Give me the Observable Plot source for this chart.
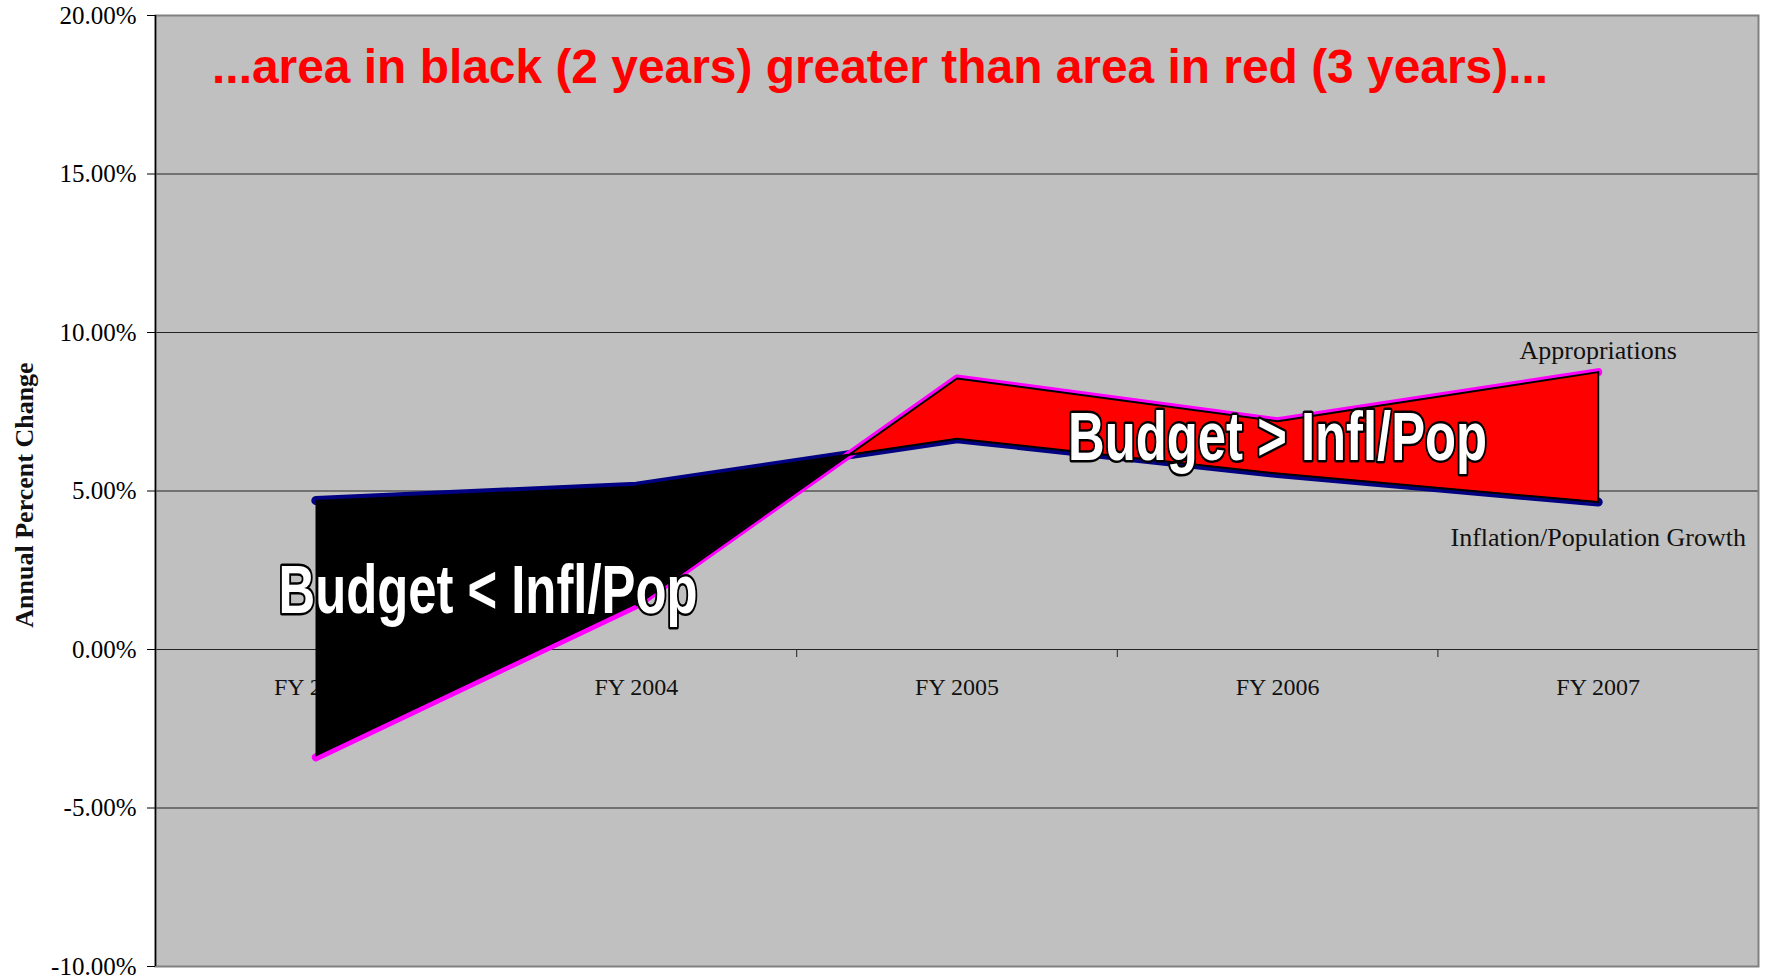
<!DOCTYPE html>
<html><head><meta charset="utf-8">
<script src="https://cdn.jsdelivr.net/npm/d3@7"></script>
<script src="https://cdn.jsdelivr.net/npm/@observablehq/plot@0.6"></script>
<style>
body{margin:0;background:#fff;}
#chart svg{display:block;}
</style>
</head><body><div id="chart"></div>
<script>
const years = ["FY 2003", "FY 2004", "FY 2005", "FY 2006", "FY 2007"];
const appropriations = [-3.4, 1.4, 8.55, 7.2, 8.75];
const inflationPopulation = [4.7, 5.15, 6.65, 5.55, 4.65];
const yTicks = [-10, -5, 0, 5, 10, 15, 20];
const gridValues = [-5, 0, 5, 10, 15];
const titleText = "...area in black (2 years) greater than area in red (3 years)...";
const belowLabel = "Budget < Infl/Pop";
const aboveLabel = "Budget > Infl/Pop";
const yLabel = "Annual Percent Change";

const data = years.map((year, i) => ({i, year, approp: appropriations[i], infl: inflationPopulation[i]}));
const serif = "Liberation Serif, Times New Roman, serif";
const sans = "Liberation Sans, Arial, sans-serif";
const narrow = "Liberation Sans Narrow, Liberation Sans, Arial, sans-serif";

const last = data.slice(-1);
const fromSecond = data.slice(1);

const marks = [
  Plot.frame({fill: "#C0C0C0"}),
  Plot.ruleY(gridValues, {stroke: "#222", strokeWidth: 1}),
  Plot.ruleX(years.slice(1).map((_, i) => i + 0.5), {y1: 0, y2: 0, insetBottom: -8, stroke: "#222", strokeWidth: 1}),
  Plot.text(data, {x: "i", y: 0, text: "year", dy: 38, fontSize: 24, fontFamily: serif, fill: "#111"}),
  Plot.line(data, {x: "i", y: "infl", stroke: "#000080", strokeWidth: 9, strokeLinecap: "round", strokeLinejoin: "round"}),
  Plot.line(data, {x: "i", y: "approp", stroke: "#FF00FF", strokeWidth: 8, strokeLinecap: "round", strokeLinejoin: "round"})
];
if (Plot.differenceY) {
  marks.push(Plot.differenceY(data, {x: "i", y1: "infl", y2: "approp", positiveFill: "#FF0000", negativeFill: "#000000", fillOpacity: 1, stroke: "none"}));
}
marks.push(
  Plot.line(fromSecond, {x: "i", y: "approp", stroke: "#000", strokeWidth: 2}),
  Plot.line(fromSecond, {x: "i", y: "infl", stroke: "#000", strokeWidth: 2}),
  Plot.ruleX(last, {x: "i", y1: "infl", y2: "approp", stroke: "#000", strokeWidth: 2}),
  Plot.text([titleText], {x: () => 1.76, y: () => 18.35, text: d => d, fill: "#FF0000", fontWeight: "bold", fontSize: 48, fontFamily: sans, className: "ttl"}),
  Plot.text([belowLabel], {x: () => 0.537, y: () => 1.86, text: d => d, fill: "#fff", stroke: "#000", strokeWidth: 5, paintOrder: "stroke", fontWeight: "bold", fontSize: 69, fontFamily: narrow, className: "big"}),
  Plot.text([aboveLabel], {x: () => 3, y: () => 6.67, text: d => d, fill: "#fff", stroke: "#000", strokeWidth: 5, paintOrder: "stroke", fontWeight: "bold", fontSize: 69, fontFamily: narrow, className: "big"}),
  Plot.text(last, {x: "i", y: "approp", text: () => "Appropriations", dy: -21, fontSize: 26, fontFamily: serif, fill: "#111"}),
  Plot.text(last, {x: "i", y: "infl", text: () => "Inflation/Population Growth", dy: 36, fontSize: 26, fontFamily: serif, fill: "#111"}),
  Plot.text([yLabel], {frameAnchor: "left", textAnchor: "middle", text: d => d, rotate: -90, dx: -131, dy: 4, fontWeight: "bold", fontSize: 26, fontFamily: serif, fill: "#111"}),
  Plot.frame({stroke: "#808080", strokeWidth: 2}),
  Plot.ruleX([-0.5], {stroke: "#000", strokeWidth: 1.5}),
  Plot.axisY({ticks: yTicks, tickFormat: d => d.toFixed(2) + "%", tickSize: 8, tickPadding: 11, fontSize: 25, fontFamily: serif, label: null, stroke: "#000", fill: "#000"})
);

const chart = Plot.plot({
  width: 1767,
  height: 978,
  marginLeft: 155,
  marginRight: 9,
  marginTop: 15,
  marginBottom: 12,
  x: {domain: [-0.5, 4.5], axis: null},
  y: {domain: [-10, 20], axis: null},
  style: {background: "#fff", color: "#000", fontFamily: serif, fontSize: "25px"},
  marks
});
chart.querySelectorAll(".big text").forEach(t => { t.setAttribute("textLength", 419); t.setAttribute("lengthAdjust", "spacingAndGlyphs"); });
chart.querySelectorAll(".ttl text").forEach(t => { t.setAttribute("textLength", 1336); t.setAttribute("lengthAdjust", "spacingAndGlyphs"); });
document.getElementById("chart").appendChild(chart);
</script>
</body></html>
